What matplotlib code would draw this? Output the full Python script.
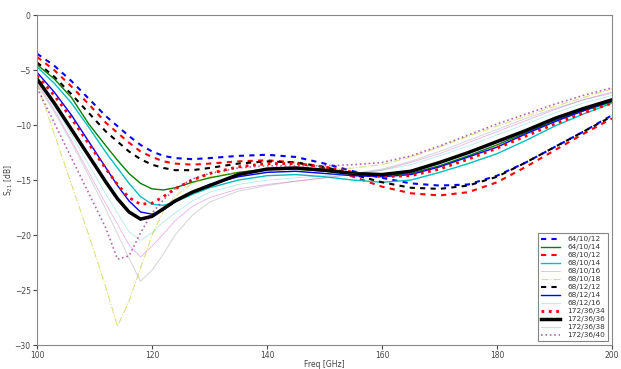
import matplotlib
matplotlib.use("Agg")
import matplotlib.pyplot as plt

freq = [100, 103, 106, 109, 112, 114, 116, 118, 120, 122, 124, 127, 130, 135, 140,
        145, 150, 155, 160, 165, 170, 175, 180, 185, 190, 195, 200]

labels = ["64/10/12", "64/10/14", "68/10/12", "68/10/14", "68/10/16", "68/10/18",
          "68/12/12", "68/12/14", "68/12/16", "172/36/34", "172/36/36", "172/36/38",
          "172/36/40"]

s_64_10_12 = [-3.5, -4.6, -6.0, -7.6, -9.2, -10.1, -11.0, -11.8, -12.4, -12.8, -13.0, -13.1, -13.0, -12.8, -12.7,
              -12.9, -13.5, -14.2, -14.8, -15.3, -15.5, -15.4, -14.6, -13.4, -12.0, -10.6, -9.1]
s_64_10_14 = [-4.5, -5.8, -7.5, -9.9, -11.9, -13.2, -14.4, -15.3, -15.8, -15.9, -15.7, -15.2, -14.8, -14.3, -14.0,
              -14.0, -14.2, -14.5, -14.6, -14.4, -13.7, -12.8, -11.8, -10.7, -9.6, -8.7, -7.9]
s_68_10_12 = [-3.8, -5.0, -6.5, -8.1, -9.8, -10.7, -11.6, -12.4, -12.9, -13.3, -13.5, -13.6, -13.5, -13.3, -13.2,
              -13.4, -13.9, -14.7, -15.6, -16.2, -16.4, -16.1, -15.2, -13.8, -12.3, -10.8, -9.4]
s_68_10_14 = [-4.7, -6.2, -8.0, -10.2, -12.5, -13.9, -15.3, -16.5, -17.2, -17.3, -17.0, -16.3, -15.7, -15.0, -14.6,
              -14.5, -14.7, -15.0, -15.2, -15.0, -14.3, -13.5, -12.6, -11.4, -10.1, -9.0, -8.0]
s_68_10_16 = [-6.1, -8.6, -11.4, -14.3, -17.2, -19.0, -20.9, -22.0, -21.0, -19.9, -18.7, -17.4, -16.6, -15.8, -15.4,
              -15.1, -14.8, -14.5, -14.1, -13.4, -12.6, -11.6, -10.6, -9.6, -8.6, -7.7, -7.0]
s_68_10_18 = [-6.2, -10.8, -15.4, -20.0, -24.8, -28.3, -26.0, -23.0, -20.0, -17.8, -16.5, -15.3, -14.7, -14.3, -14.2,
              -14.2, -14.1, -13.9, -13.6, -12.9, -12.0, -11.0, -10.1, -9.2, -8.3, -7.5, -6.7]
s_68_12_12 = [-4.3, -5.6, -7.2, -8.9, -10.6, -11.5, -12.4, -13.1, -13.6, -13.9, -14.1, -14.1, -13.9, -13.5, -13.3,
              -13.4, -13.8, -14.5, -15.2, -15.7, -15.8, -15.5, -14.7, -13.4, -12.0, -10.6, -9.2]
s_68_12_14 = [-5.2, -7.0, -9.1, -11.5, -13.9, -15.5, -16.9, -17.9, -18.1, -17.7, -17.0, -16.1, -15.4, -14.7, -14.3,
              -14.2, -14.4, -14.6, -14.7, -14.5, -13.8, -12.9, -12.0, -10.8, -9.7, -8.7, -7.8]
s_68_12_16 = [-5.9, -8.3, -10.9, -13.6, -16.3, -18.0, -19.7, -20.5, -19.8, -18.8, -18.0, -16.9, -16.1, -15.4, -15.0,
              -14.8, -14.6, -14.4, -14.1, -13.6, -12.8, -11.9, -10.9, -9.9, -8.9, -8.0, -7.3]
s_172_36_34 = [-5.5, -7.3, -9.4, -11.7, -14.0, -15.4, -16.6, -17.2, -17.1, -16.5, -15.8, -15.0, -14.4, -13.8, -13.5,
               -13.5, -13.8, -14.3, -14.7, -14.6, -14.0, -13.1, -12.1, -11.0, -9.9, -8.9, -8.0]
s_172_36_36 = [-5.8, -8.0, -10.4, -12.8, -15.2, -16.7, -17.9, -18.55, -18.3, -17.6, -16.9, -16.1, -15.5, -14.5, -14.0,
               -13.9, -14.1, -14.4, -14.5, -14.2, -13.4, -12.5, -11.5, -10.5, -9.4, -8.5, -7.7]
s_172_36_38 = [-6.3, -8.8, -11.6, -14.6, -17.7, -19.9, -22.1, -24.2, -23.2, -21.7, -20.0, -18.2, -17.0, -16.0, -15.5,
               -15.1, -14.8, -14.4, -14.0, -13.3, -12.4, -11.4, -10.4, -9.4, -8.5, -7.7, -7.1]
s_172_36_40 = [-6.6, -9.8, -13.0, -16.2, -19.4, -22.2, -21.9, -19.8, -18.0, -16.8, -15.8, -14.9, -14.4, -13.9, -13.7,
               -13.7, -13.7, -13.6, -13.4, -12.8, -11.9, -10.9, -9.9, -9.0, -8.1, -7.3, -6.6]

series = [s_64_10_12, s_64_10_14, s_68_10_12, s_68_10_14, s_68_10_16, s_68_10_18,
          s_68_12_12, s_68_12_14, s_68_12_16, s_172_36_34, s_172_36_36, s_172_36_38,
          s_172_36_40]

styles = [
    dict(color="blue", ls=(0, (2.5, 2.5)), lw=1.5),
    dict(color="green", ls="-", lw=1.0),
    dict(color="red", ls=(0, (2.5, 2.5)), lw=1.5),
    dict(color="c", ls="-", lw=1.0),
    dict(color="m", ls="-", lw=0.6, alpha=0.3),
    dict(color="y", ls="-.", lw=0.8, alpha=0.5),
    dict(color="black", ls=(0, (2.5, 2.5)), lw=1.5),
    dict(color="blue", ls="-", lw=1.0),
    dict(color="c", ls="-", lw=0.6, alpha=0.3),
    dict(color="red", ls=":", lw=2.0),
    dict(color="black", ls="-", lw=2.5),
    dict(color="grey", ls="-", lw=0.8, alpha=0.3),
    dict(color="purple", ls=":", lw=1.2, alpha=0.6),
]

fig = plt.figure(figsize=(6.21, 3.69), dpi=100)
ax = fig.add_axes([0.0596, 0.065, 0.926, 0.894])
for lab, ys, st in zip(labels, series, styles):
    ax.plot(freq, ys, label=lab, **st)

ax.set_xlim(100, 200)
ax.set_ylim(-30, 0)
ax.set_xticks([100, 120, 140, 160, 180, 200])
ax.set_yticks([0, -5, -10, -15, -20, -25, -30])
ax.tick_params(labelsize=5.5, colors="#444444", length=3, pad=1.5)
for sp in ax.spines.values():
    sp.set_color("#888888")
ax.set_xlabel("Freq [GHz]", fontsize=5.5, color="#444444", labelpad=0)
ax.set_ylabel("S$_{21}$ [dB]", fontsize=5.5, color="#444444", labelpad=0)
leg = ax.legend(loc="lower right", fontsize=5.3, frameon=True, fancybox=False,
                handlelength=2.6, labelspacing=0.25, borderpad=0.4,
                borderaxespad=0.5, handletextpad=1.0)
leg.get_frame().set_edgecolor("#666666")
leg.get_frame().set_linewidth(0.8)
for t in leg.get_texts():
    t.set_color("#333333")

fig.savefig("out.png", dpi=100)
